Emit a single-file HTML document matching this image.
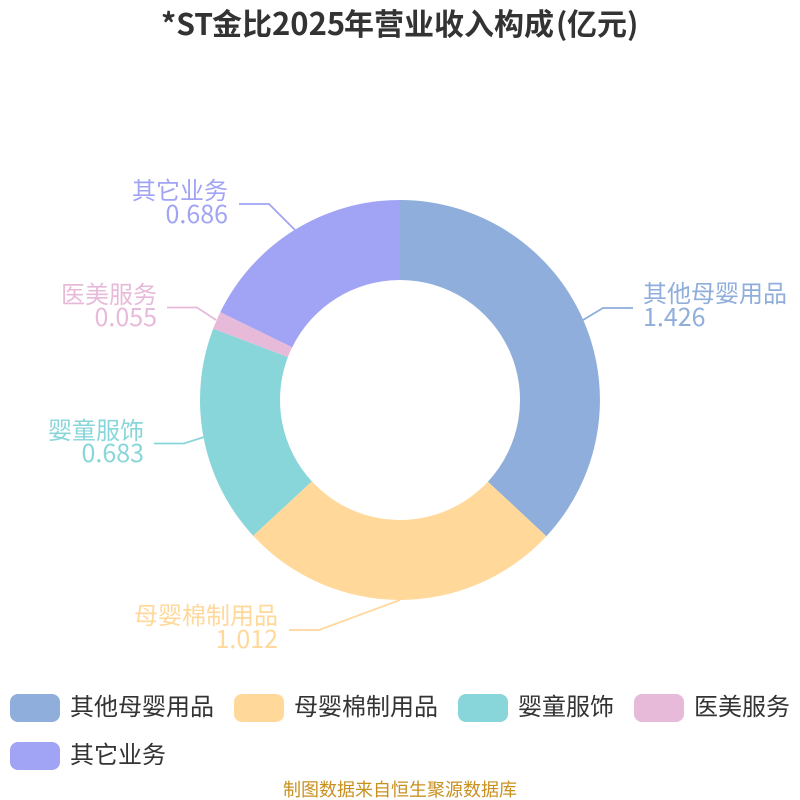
<!DOCTYPE html>
<html>
<head>
<meta charset="utf-8">
<style>
html,body{margin:0;padding:0;background:#fff;width:800px;height:800px;overflow:hidden}
svg{display:block}
text{font-family:"Noto Sans CJK SC","Liberation Sans",sans-serif}
</style>
</head>
<body>
<svg width="800" height="800" viewBox="0 0 800 800" xmlns="http://www.w3.org/2000/svg">
<text y="35" font-size="30" font-weight="700" fill="#333"><tspan x="161">*ST</tspan><tspan x="212">金比</tspan><tspan x="272" font-size="31">2025</tspan><tspan x="344">年营业收入构成</tspan><tspan x="556">(</tspan><tspan x="567">亿元</tspan><tspan x="627">)</tspan></text>

<g>
<path d="M400 200A200 200 0 0 1 546.4 536.2L487.9 481.7A120 120 0 0 0 400 280Z" fill="#8FAEDB"/>
<path d="M546.4 536.2A200 200 0 0 1 253.1 535.7L311.9 481.4A120 120 0 0 0 487.9 481.7Z" fill="#FFD89A"/>
<path d="M253.1 535.7A200 200 0 0 1 213.2 328.6L287.9 357.1A120 120 0 0 0 311.9 481.4Z" fill="#88D6D9"/>
<path d="M213.2 328.6A200 200 0 0 1 220.3 312.1L292.2 347.3A120 120 0 0 0 287.9 357.1Z" fill="#E7BAD9"/>
<path d="M220.3 312.1A200 200 0 0 1 400 200L400 280A120 120 0 0 0 292.2 347.3Z" fill="#A1A3F5"/>
</g>

<g fill="none" stroke-width="1.8">
<polyline points="583,320 603,308 633,308" stroke="#8FAEDB"/>
<polyline points="400,600 319,630 289,630" stroke="#FFD89A"/>
<polyline points="204,437 184,443.5 154,443.5" stroke="#88D6D9"/>
<polyline points="216,320 197,307.5 167,307.5" stroke="#E7BAD9"/>
<polyline points="295,230 269,204 239,204" stroke="#A1A3F5"/>
</g>

<g font-size="24">
<g fill="#8FAEDB"><text x="643" y="302">其他母婴用品</text><text x="643" y="326" font-size="25">1.426</text></g>
<g fill="#FFD89A" text-anchor="end"><text x="278" y="624">母婴棉制用品</text><text x="278" y="648" font-size="25">1.012</text></g>
<g fill="#88D6D9" text-anchor="end"><text x="144" y="439">婴童服饰</text><text x="144" y="462" font-size="25">0.683</text></g>
<g fill="#E7BAD9" text-anchor="end"><text x="157" y="303">医美服务</text><text x="157" y="326" font-size="25">0.055</text></g>
<g fill="#A1A3F5" text-anchor="end"><text x="228" y="199">其它业务</text><text x="228" y="223" font-size="25">0.686</text></g>
</g>

<rect x="10" y="694" width="50" height="28" rx="8" fill="#8FAEDB"/>
<rect x="234" y="694" width="50" height="28" rx="8" fill="#FFD89A"/>
<rect x="458" y="694" width="50" height="28" rx="8" fill="#88D6D9"/>
<rect x="634" y="694" width="50" height="28" rx="8" fill="#E7BAD9"/>
<rect x="10" y="742" width="50" height="28" rx="8" fill="#A1A3F5"/>
<g font-size="24" fill="#333">
<text x="70" y="715">其他母婴用品</text>
<text x="294" y="715">母婴棉制用品</text>
<text x="518" y="715">婴童服饰</text>
<text x="694" y="715">医美服务</text>
<text x="70" y="763">其它业务</text>
</g>

<text x="400" y="796" font-size="18" fill="#C8901F" text-anchor="middle">制图数据来自恒生聚源数据库</text>
</svg>
</body>
</html>
